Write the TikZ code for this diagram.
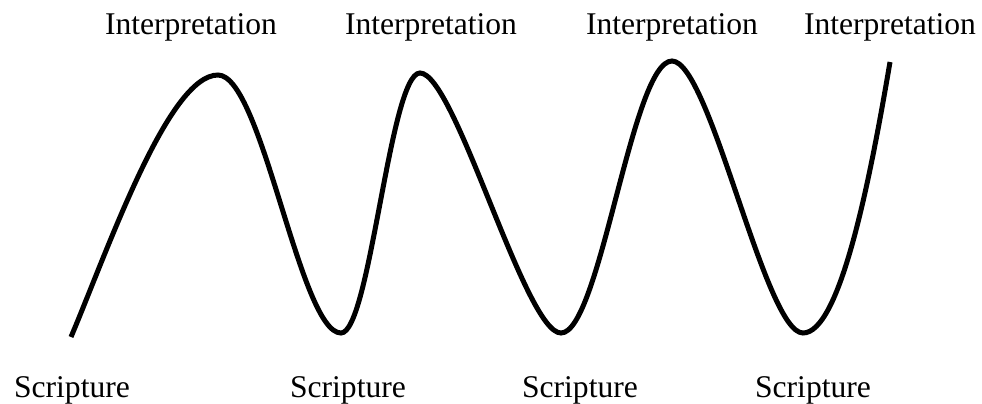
\documentclass[tikz,border=0pt]{standalone}
\usepackage{fontspec}
\setmainfont{Liberation Serif}
\usepackage{tikz}
\usetikzlibrary{positioning}
\tikzset{
  hwave/.style={draw=black, line width=5pt, line cap=butt},
  hlbl/.style={anchor=base, inner sep=0pt, font=\fontsize{31.6}{36}\selectfont},
}

\begin{document}
\begin{tikzpicture}[x=1pt,y=-1pt]

  \useasboundingbox (0,0) rectangle (982,404);

  % pontos da onda
  \coordinate (s0) at (71,337);
  \coordinate (i1) at (218,75);
  \coordinate (s1) at (341,333);
  \coordinate (i2) at (420,73);
  \coordinate (s2) at (561,333);
  \coordinate (i3) at (672,61);
  \coordinate (s3) at (803,333);
  \coordinate (i4) at (890,62);

  % onda
  \draw[hwave] (s0) .. controls (107,252) and (168,75) .. (i1)
                    .. controls (262,75) and (300,333) .. (s1)
                    .. controls (370,333) and (390,73) .. (i2)
                    .. controls (455,73) and (525,333) .. (s2)
                    .. controls (600,333) and (632,61) .. (i3)
                    .. controls (710,61) and (765,333) .. (s3)
                    .. controls (840,333) and (870,180) .. (i4);

  % rótulos de cima
  \node[hlbl] (interp1) at (191,35) {Interpretation};
  \node[hlbl] (interp2) at (431,35) {Interpretation};
  \node[hlbl] (interp3) at (672,35) {Interpretation};
  \node[hlbl] (interp4) at (890,35) {Interpretation};

  % rótulos de baixo
  \node[hlbl] (scrip1) at (72,397) {Scripture};
  \node[hlbl] (scrip2) at (348,397) {Scripture};
  \node[hlbl] (scrip3) at (580,397) {Scripture};
  \node[hlbl] (scrip4) at (813,397) {Scripture};

\end{tikzpicture}
\end{document}
